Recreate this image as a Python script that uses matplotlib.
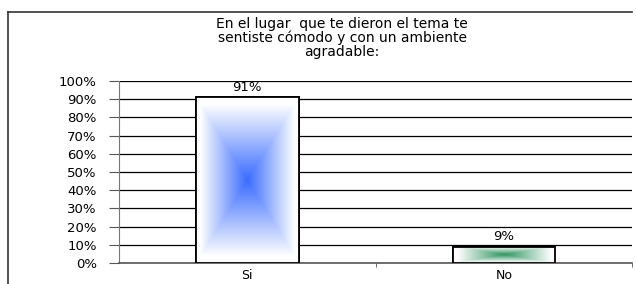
import numpy as np
import matplotlib.pyplot as plt
from matplotlib.lines import Line2D
from matplotlib.colors import to_rgb

plt.rcParams['font.family'] = ['DejaVu Sans']

# Datos
categorias = ['Si', 'No']
porcentajes = [91, 9]
etiquetas = ['91%', '9%']
colores_centro = ['#3a6cff', '#2f9460']
titulo = 'En el lugar  que te dieron el tema te\nsentiste cómodo y con un ambiente\nagradable:'

fig = plt.figure(figsize=(6.36, 2.84), dpi=100)
ax = fig.add_axes([0.187, 0.074, 0.807, 0.641])

x = np.arange(len(categorias))
barras = ax.bar(x, porcentajes, width=0.4, color='white', edgecolor='black',
                linewidth=1.3, zorder=3)

# degradado desde el centro (rectangular) dentro de cada barra
n = 200
u = np.linspace(-1, 1, n)
U, V = np.meshgrid(u, u)
t = np.maximum(np.abs(U), np.abs(V))
t = np.clip(t / 0.92, 0, 1)
for b, c in zip(barras, colores_centro):
    rgb = np.array(to_rgb(c))
    img = rgb[None, None, :] * (1 - t[..., None]) + np.ones(3)[None, None, :] * t[..., None]
    x0, y0 = b.get_x(), b.get_y()
    w, h = b.get_width(), b.get_height()
    im = ax.imshow(img, extent=[x0, x0 + w, y0, y0 + h], aspect='auto',
                   interpolation='bilinear', zorder=3.5)
    im.set_clip_path(b)
    ax.add_patch(plt.Rectangle((x0, y0), w, h, fill=False, edgecolor='black',
                               linewidth=1.3, zorder=4))

for b, txt in zip(barras, etiquetas):
    ax.text(b.get_x() + b.get_width() / 2, b.get_height() + 2, txt,
            ha='center', va='bottom', fontsize=9.5)

ax.set_xlim(-0.5, len(categorias) - 0.5)
ax.set_ylim(0, 100)
ax.set_yticks(range(0, 101, 10))
ax.set_yticklabels([f'{v}%' for v in range(0, 101, 10)], fontsize=9.5)
ax.set_xticks(x)
ax.set_xticklabels(categorias, fontsize=9)
ax.set_xticks([0.5, 1.5], minor=True)
ax.tick_params(axis='x', which='major', length=0, pad=4)
ax.tick_params(axis='x', which='minor', length=3, color='#555555')
ax.tick_params(axis='y', length=7, pad=9, color='#555555')

ax.yaxis.grid(True, color='black', linewidth=0.9, zorder=0)
ax.set_axisbelow(True)
for s in ['top', 'right']:
    ax.spines[s].set_visible(False)
ax.spines['left'].set_color('#777777')
ax.spines['bottom'].set_color('#555555')
ax.spines['bottom'].set_linewidth(1.2)

fig.text(0.538, 1 - 17 / 284, titulo, ha='center', va='top', fontsize=10,
         linespacing=0.98)

# marco del gráfico
fig.add_artist(Line2D([8 / 636, 8 / 636], [0, 1 - 12 / 284], color='#333333', lw=1.2))
fig.add_artist(Line2D([8 / 636, 632 / 636], [1 - 12 / 284, 1 - 12 / 284], color='#333333', lw=1.2))

fig.savefig('out.png', dpi=100)
